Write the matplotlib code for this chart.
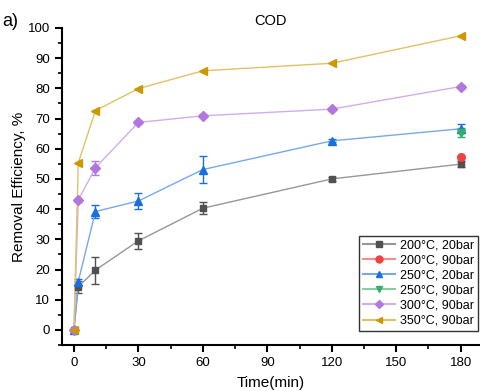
import numpy as np
import matplotlib
matplotlib.use('Agg')
import matplotlib.pyplot as plt
from matplotlib.ticker import MultipleLocator
from matplotlib.colors import to_rgb

plt.rcParams['font.family'] = ['Liberation Sans', 'DejaVu Sans']

# Dados (tempo em minutos, eficiência de remoção em %)
t = [0, 2, 10, 30, 60, 120, 180]
t_end = [180]

s200_20 = [0, 14.3, 19.8, 29.5, 40.3, 50.0, 54.9]
s200_20_err = [0, 2.0, 4.5, 2.6, 2.0, 0.6, 1.0]
s200_90 = [57.4]
s250_20 = [0, 16.0, 39.2, 42.7, 53.1, 62.6, 66.6]
s250_20_err = [0, 1.0, 2.0, 2.5, 4.6, 0.5, 1.5]
s250_90 = [65.3]
s250_90_err = [1.5]
s300_90 = [0, 43.0, 53.7, 68.7, 70.9, 73.1, 80.6]
s300_90_err = [0, 0.5, 2.3, 0.5, 0.5, 0.5, 0.5]
s350_90 = [0, 55.3, 72.6, 79.9, 85.8, 88.3, 97.4]

labels = ['200°C, 20bar', '200°C, 90bar', '250°C, 20bar',
          '250°C, 90bar', '300°C, 90bar', '350°C, 90bar']
colors = ['#515151', '#F14040', '#1A6FDF', '#37AD6B', '#B177DE', '#CC9900']

fig = plt.figure(figsize=(4.8, 3.91), dpi=100)
ax = fig.add_axes([0.129, 0.1176, 0.871, 0.811])

def claro(c, f=0.4):
    r, g, b = to_rgb(c)
    return (r + (1 - r) * f, g + (1 - g) * f, b + (1 - b) * f)

def serie(x, y, err, c, m, lab, ms=5.5):
    if err is not None:
        ax.errorbar(x, y, yerr=err, fmt='none', ecolor=c, elinewidth=1,
                    capsize=3, capthick=1, zorder=2)
    ax.plot(x, y, '-', color=claro(c), lw=1, zorder=3)
    ax.plot(x, y, m, color=c, ms=ms, mec=c, ls='none', zorder=4)
    ax.plot([], [], '-', marker=m, color=claro(c), mfc=c, mec=c, ms=ms - 0.5,
            label=lab)

serie(t, s200_20, s200_20_err, colors[0], 's', labels[0], 5)
serie(t_end, s200_90, None, colors[1], 'o', labels[1])
serie(t, s250_20, s250_20_err, colors[2], '^', labels[2])
serie(t_end, s250_90, s250_90_err, colors[3], 'v', labels[3])
serie(t, s300_90, s300_90_err, colors[4], 'D', labels[4], 5)
serie(t, s350_90, None, colors[5], '<', labels[5])

ax.set_xlim(-5.6, 189)
ax.set_ylim(-5, 100)
ax.xaxis.set_major_locator(MultipleLocator(30))
ax.xaxis.set_minor_locator(MultipleLocator(15))
ax.yaxis.set_major_locator(MultipleLocator(10))
ax.yaxis.set_minor_locator(MultipleLocator(5))
for s in ['top', 'right']:
    ax.spines[s].set_visible(False)
for s in ['left', 'bottom']:
    ax.spines[s].set_linewidth(1.5)
ax.tick_params(which='major', direction='out', length=5, width=1.5,
               labelsize=9.5, colors='black')
ax.tick_params(which='minor', direction='out', length=3, width=1.2)

ax.set_xlabel('Time(min)', fontsize=11, labelpad=5)
ax.set_ylabel('Removal Efficiency, %', fontsize=11, labelpad=1)
ax.text(0.5, 1.0, 'COD', transform=ax.transAxes, ha='center', va='bottom',
        fontsize=10.5)
fig.text(0.005, 0.945, 'a)', fontsize=13, ha='left', va='center')

leg = ax.legend(loc='lower right', bbox_to_anchor=(0.995, 0.045), fontsize=9,
                frameon=True, fancybox=False, edgecolor='black',
                handlelength=2.6, borderpad=0.3, labelspacing=0.25,
                handletextpad=0.4, borderaxespad=0)
leg.get_frame().set_linewidth(1)

plt.savefig('out.png', dpi=100)
